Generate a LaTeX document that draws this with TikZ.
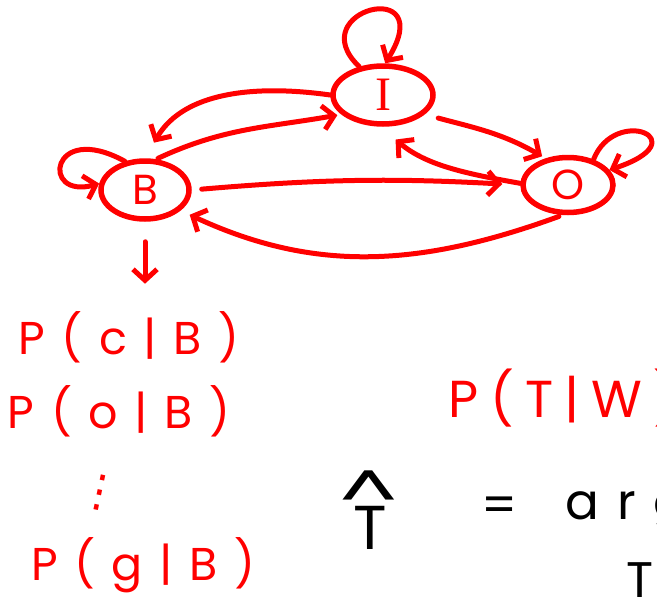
\documentclass[tikz,border=0pt]{standalone}
\usepackage{fontspec}
\setmainfont{Poppins}
\newfontfamily\hand[LetterSpace=36]{Poppins}
\newfontfamily\handT[LetterSpace=22]{Poppins}
\newfontfamily\serifI{Liberation Serif}
\newfontfamily\symb{DejaVu Sans}
\usepackage{tikz}
\usetikzlibrary{shapes.geometric,arrows.meta,positioning}
\tikzstyle{state} = [ellipse, draw=red, line width=5.5pt, text=red, font=\fontsize{42}{44}\selectfont]
\tikzstyle{arrow} = [draw=red, line width=5pt, line cap=round, line join=round, -{Straight Barb[length=11pt,width=24pt]}]
\tikzstyle{prob} = [text=red, font=\hand\fontsize{46}{50}\selectfont]
\tikzstyle{eq} = [text=black, font=\fontsize{50}{54}\selectfont]

\begin{document}
\begin{tikzpicture}[x=1pt, y=-1pt]
    \useasboundingbox (0,0) rectangle (657,600);
    \clip (0,0) rectangle (657,600);
    % states
    \node[state, minimum width=100pt, minimum height=58pt, inner sep=0pt] (I) at (383,95) {\serifI\fontsize{48}{50}\selectfont I};
    \node[state, minimum width=88pt, minimum height=58pt, inner sep=0pt] (B) at (145,190) {B};
    \node[state, minimum width=90pt, minimum height=55pt, inner sep=0pt] (O) at (568,185) {O};
    % self loops
    \draw[arrow] (I.130) .. controls (300,10) and (440,-25) .. (I.86);
    \draw[arrow] (B.125) .. controls (50,120) and (40,200) .. (B.172);
    \draw[arrow] (O.45) .. controls (615,105) and (700,140) .. (O.20);
    % transitions
    \draw[arrow, shorten >=18pt] (I.west) to[out=172,in=60] (B.north);
    \draw[arrow, shorten <=2pt, shorten >=4pt] (B.70) to[out=25,in=190] (I.205);
    \draw[arrow, shorten <=14pt, shorten >=4pt] (I.335) to[out=-15,in=150] (O.130);
    \draw[arrow, shorten >=20pt] (O.178) to[out=170,in=-40] (I.-95);
    \draw[arrow, shorten <=10pt, shorten >=18pt] (B.east) to[bend left=4] (O.west);
    \draw[arrow, shorten <=4pt, shorten >=10pt] (O.-100) to[out=200,in=-25] (B.-30);
    % emissions
    \node[prob] (pc) at (129,337) {P(c|B)};
    \node[prob] (po) at (119,411) {P(o|B)};
    \node[prob, font=\symb\fontsize{44}{44}\selectfont, rotate=-12] (dots) at (100,493) {⋮};
    \node[prob] (pg) at (143,565) {P(g|B)};
    \draw[arrow, shorten <=20pt, shorten >=24pt] (B.south) -- (B.south |- pc.north);
    % decoding
    \node[eq, font=\fontsize{62}{66}\selectfont] (that) at (370,510) {\rlap{\raisebox{40pt}{\hspace{-14pt}\scalebox{1.5}[0.9]{\textasciicircum}}}T};
    \node[eq] (equal) at (500,510) {=};
    \node[eq, font=\hand\fontsize{50}{54}\selectfont, anchor=west] (argmax) at (562,512) {argmax};
    \node[eq] (sub) at (640,580) {T};
    \node[prob, anchor=west, font=\handT\fontsize{52}{56}\selectfont] (ptw) at (445,398) {P(T|W)};
\end{tikzpicture}
\end{document}
